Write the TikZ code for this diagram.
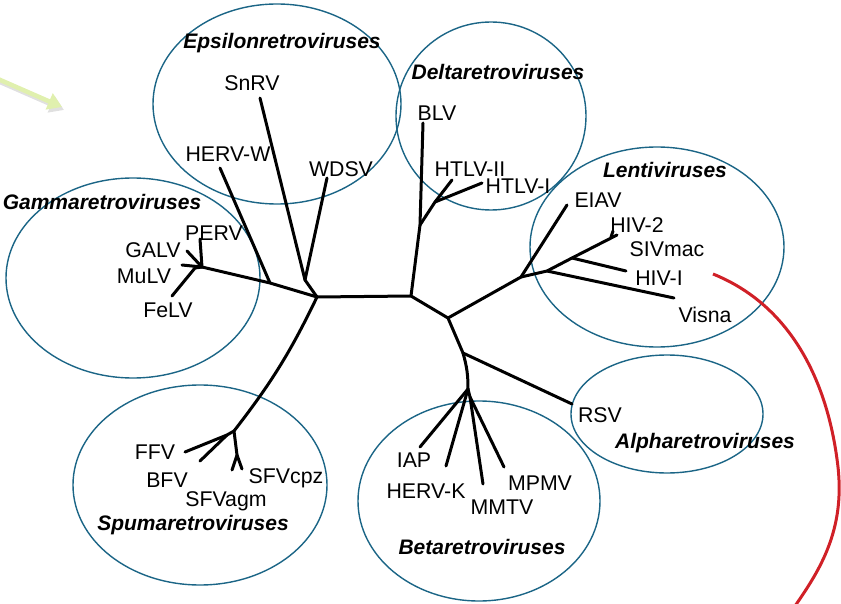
\documentclass[tikz,border=0pt]{standalone}
\usepackage{fontspec}
\setmainfont{Liberation Sans}
\usetikzlibrary{arrows.meta}
\definecolor{clade}{HTML}{1B6586}
\definecolor{redline}{HTML}{D02027}
\definecolor{lime}{HTML}{E0F0AE}
\tikzset{
  branch/.style={line width=3pt, line cap=round, line join=round},
  group/.style={draw=clade, line width=1.4pt},
  taxon/.style={font=\fontsize{21.3}{25}\selectfont, inner sep=0pt},
  family/.style={font=\fontsize{21}{25}\selectfont\bfseries\itshape, inner sep=0pt}
}
\begin{document}
\begin{tikzpicture}[x=1pt,y=-1pt]
              \useasboundingbox (0,0) rectangle (841,604);
              % clade ellipses
              \draw[group] (277,104) ellipse [x radius=124, y radius=100];
              \draw[group] (491,116) ellipse [x radius=95, y radius=94];
              \draw[group] (657,247) ellipse [x radius=127, y radius=100];
              \draw[group] (133,278) ellipse [x radius=127, y radius=100];
              \draw[group] (667,414) ellipse [x radius=96, y radius=59];
              \draw[group] (479,501) ellipse [x radius=121, y radius=100];
              \draw[group] (200,485) ellipse [x radius=127, y radius=100];
              % inner points of the tree
              \coordinate (hubL) at (317,297);
              \coordinate (hubM) at (411,296);
              \coordinate (hubR) at (448,318);
              \coordinate (eps) at (305,280);
              \coordinate (hw) at (270,283);
              \coordinate (gam) at (202,267);
              \coordinate (fel) at (195,268);
              \coordinate (delta) at (420,225);
              \coordinate (htlv) at (435,202);
              \coordinate (lenti) at (521,277);
              \coordinate (lenA) at (547,271);
              \coordinate (lenB) at (572,258);
              \coordinate (hiv2) at (611,237);
              \coordinate (alpha) at (463,353);
              \coordinate (beta) at (468,389);
              \coordinate (betaB) at (470,397);
              \coordinate (spu) at (234,431);
              \coordinate (spuA) at (227,435);
              \coordinate (spuB) at (237,455);
              % leaves
              \coordinate (lSnRV) at (260,98);
              \coordinate (lWDSV) at (327,178);
              \coordinate (lHERVW) at (220,168);
              \coordinate (lPERV) at (200,239);
              \coordinate (lGALV) at (187,251);
              \coordinate (lMuLV) at (182,265);
              \coordinate (lFeLV) at (172,296);
              \coordinate (lBLV) at (423,123);
              \coordinate (lHTLVII) at (452,180);
              \coordinate (lHTLVI) at (482,183);
              \coordinate (lEIAV) at (567,205);
              \coordinate (lHIV2) at (617,235);
              \coordinate (lSIV) at (613,231);
              \coordinate (lHIVI) at (626,271);
              \coordinate (lVisna) at (674,298);
              \coordinate (lRSV) at (572,404);
              \coordinate (lIAP) at (420,447);
              \coordinate (lHERVK) at (446,466);
              \coordinate (lMMTV) at (483,484);
              \coordinate (lMPMV) at (504,467);
              \coordinate (lFFV) at (185,452);
              \coordinate (lBFV) at (200,461);
              \coordinate (lSFVagm) at (232,470);
              \coordinate (lSFVcpz) at (242,469);
              % branches
              \draw[branch] (hubL) -- (hubM) -- (hubR);
              \draw[branch] (hubL) -- (eps) -- (lSnRV);
              \draw[branch] (eps) -- (lWDSV);
              \draw[branch] (hubL) -- (hw) -- (gam);
              \draw[branch] (hw) -- (lHERVW);
              \draw[branch] (gam) -- (lPERV);
              \draw[branch] (gam) -- (lGALV);
              \draw[branch] (gam) -- (lMuLV);
              \draw[branch] (gam) -- (fel) -- (lFeLV);
              \draw[branch] (hubM) -- (delta) -- (lBLV);
              \draw[branch] (delta) -- (htlv) -- (lHTLVII);
              \draw[branch] (htlv) -- (lHTLVI);
              \draw[branch] (hubR) -- (lenti) -- (lEIAV);
              \draw[branch] (lenti) -- (lenA) -- (lenB) -- (lHIV2);
              \draw[branch] (hiv2) -- (lSIV);
              \draw[branch] (lenB) -- (lHIVI);
              \draw[branch] (lenA) -- (lVisna);
              \draw[branch] (hubR) -- (alpha) -- (lRSV);
              \draw[branch] (alpha) to[bend left=8] (beta);
              \draw[branch] (beta) -- (lIAP);
              \draw[branch] (beta) -- (lHERVK);
              \draw[branch] (beta) -- (betaB) -- (lMMTV);
              \draw[branch] (betaB) -- (lMPMV);
              \draw[branch] (hubL) to[bend left=6] (spu);
              \draw[branch] (spu) -- (spuA) -- (lFFV);
              \draw[branch] (spuA) -- (lBFV);
              \draw[branch] (spu) -- (spuB) -- (lSFVagm);
              \draw[branch] (spuB) -- (lSFVcpz);
              % taxa
              \node[taxon] (tSnRV) at (252,83) {SnRV};
              \node[taxon] (tHERVW) at (228,154) {HERV-W};
              \node[taxon] (tWDSV) at (341,169) {WDSV};
              \node[taxon] (tPERV) at (214,233) {PERV};
              \node[taxon] (tGALV) at (153,250) {GALV};
              \node[taxon] (tMuLV) at (144,276) {MuLV};
              \node[taxon] (tFeLV) at (168,310) {FeLV};
              \node[taxon] (tBLV) at (437,113) {BLV};
              \node[taxon] (tHTLVII) at (470,169) {HTLV-II};
              \node[taxon] (tHTLVI) at (518,186) {HTLV-I};
              \node[taxon] (tEIAV) at (598,200) {EIAV};
              \node[taxon] (tHIV2) at (637,225) {HIV-2};
              \node[taxon] (tSIV) at (667,249) {SIVmac};
              \node[taxon] (tHIVI) at (659,278) {HIV-I};
              \node[taxon] (tVisna) at (705,315) {Visna};
              \node[taxon] (tRSV) at (600,415) {RSV};
              \node[taxon] (tIAP) at (414,460) {IAP};
              \node[taxon] (tHERVK) at (426,491) {HERV-K};
              \node[taxon] (tMMTV) at (502,507) {MMTV};
              \node[taxon] (tMPMV) at (540,483) {MPMV};
              \node[taxon] (tFFV) at (155,452) {FFV};
              \node[taxon] (tBFV) at (167,480) {BFV};
              \node[taxon] (tSFVagm) at (226,501) {SFVagm};
              \node[taxon] (tSFVcpz) at (286,478) {SFVcpz};
              % genera
              \node[family] (fEps) at (282,43) {Epsilonretroviruses};
              \node[family] (fDelta) at (498,72) {Deltaretroviruses};
              \node[family] (fLenti) at (665,170) {Lentiviruses};
              \node[family] (fGamma) at (102,202) {Gammaretroviruses};
              \node[family] (fAlpha) at (705,443) {Alpharetroviruses};
              \node[family] (fBeta) at (482,547) {Betaretroviruses};
              \node[family] (fSpuma) at (193,525) {Spumaretroviruses};
              % pointers
              \coordinate (gFrom) at (-2,79);
              \coordinate (gTo) at (62,107);
              \draw[black!12, line width=4.5pt, -{Triangle[width=17pt,length=14pt]}] ([shift={(2,3)}]gFrom) -- ([shift={(2,3)}]gTo);
              \draw[lime, line width=4.5pt, -{Triangle[width=17pt,length=14pt]}] (gFrom) -- (gTo);
              \coordinate (rFrom) at (713,274);
              \coordinate (rTo) at (795,606);
              \draw[redline, line width=3pt] (rFrom) .. controls (790,305) and (828,380) .. (838,467)
                .. controls (845,530) and (820,570) .. (rTo);
            \end{tikzpicture}
\end{document}
